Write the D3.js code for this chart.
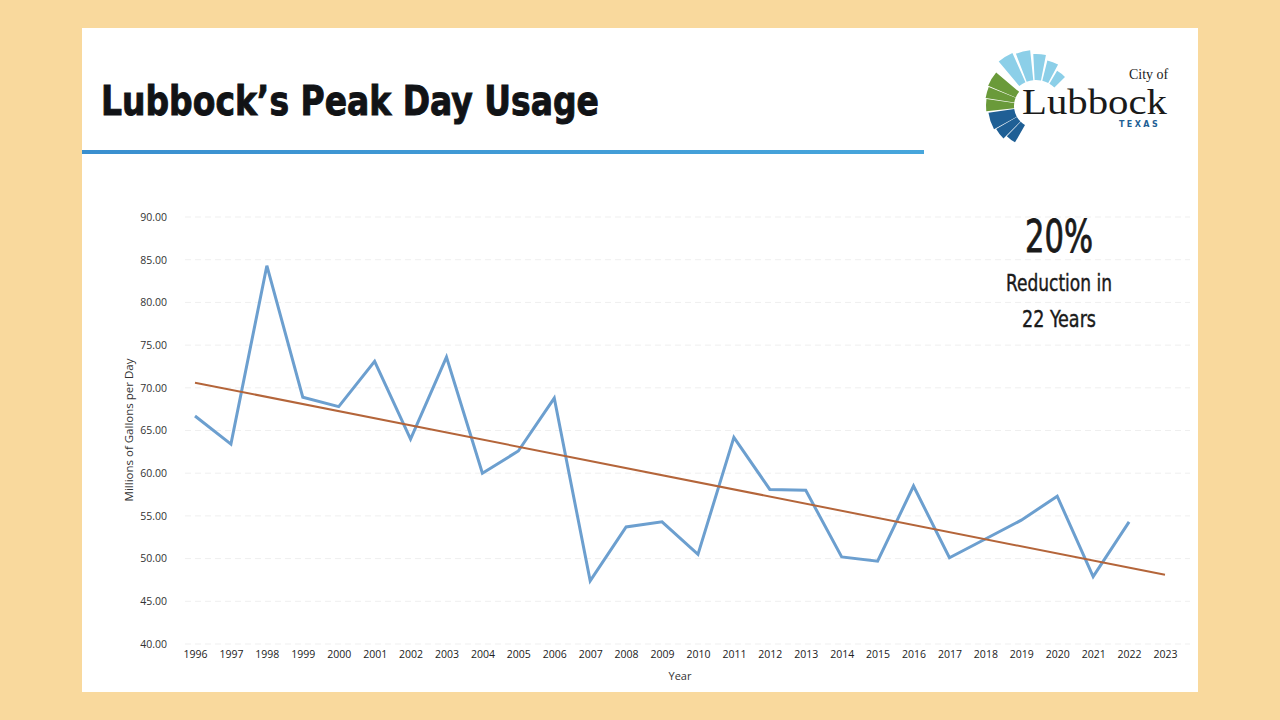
<!DOCTYPE html>
<html>
<head>
<meta charset="utf-8">
<script src="https://cdn.jsdelivr.net/npm/d3@7"></script>
<style>
  html, body { margin: 0; padding: 0; background: #F9D99D; }
  svg { display: block; }
</style>
</head>
<body>
<svg id="chart" width="1280" height="720"></svg>
<script>
// ---- Data ----
const years = [1996,1997,1998,1999,2000,2001,2002,2003,2004,2005,2006,2007,2008,2009,2010,2011,2012,2013,2014,2015,2016,2017,2018,2019,2020,2021,2022,2023];
const peakUsage = [66.7,63.4,84.3,68.9,67.8,73.1,64.0,73.6,60.0,62.6,68.8,47.4,53.7,54.3,50.5,64.2,58.1,58.0,50.2,49.7,58.5,50.1,52.3,54.5,57.3,47.9,54.3,null];
const trendStart = 70.6;   // value of trend line at first year
const trendEnd = 48.1;     // value of trend line at last year
const yTicks = [40,45,50,55,60,65,70,75,80,85,90];
const titleText = "Lubbock\u2019s Peak Day Usage";
const calloutLines = ["20%", "Reduction in", "22 Years"];

// ---- Layout ----
const svg = d3.select("#chart");
svg.append("rect").attr("x",0).attr("y",0).attr("width",1280).attr("height",720).attr("fill","#F9D99D");
svg.append("rect").attr("x",82).attr("y",28).attr("width",1116).attr("height",664).attr("fill","#ffffff");

// Title
svg.append("text").attr("x",101).attr("y",115)
  .attr("font-family","'DejaVu Sans', sans-serif").attr("font-weight","bold")
  .attr("font-size",40).attr("fill","#111316").attr("stroke","#111316").attr("stroke-width",1)
  .attr("textLength",498).attr("lengthAdjust","spacingAndGlyphs")
  .text(titleText);

// Blue rule
const grad = svg.append("defs").append("linearGradient").attr("id","rule");
grad.append("stop").attr("offset","0%").attr("stop-color","#3A8FCF");
grad.append("stop").attr("offset","100%").attr("stop-color","#47A6DC");
svg.append("rect").attr("x",82).attr("y",150).attr("width",842).attr("height",4).attr("fill","url(#rule)");

// Logo
const logo = svg.append("g").attr("transform","translate(1036,106)");
const arc = d3.arc();
const deg = Math.PI/180;
const lightRays = [[-40,-24,58],[-21,-6,56],[-3,11,52],[14,28,47],[31,45,41]];
lightRays.forEach(r => {
  logo.append("path").attr("d", arc({innerRadius:26, outerRadius:r[2], startAngle:r[0]*deg, endAngle:r[1]*deg})).attr("fill","#8CCFE8");
});
const greenRays = [[-96,-82,50],[-81,-68,51],[-67,-50,52]];
greenRays.forEach(r => {
  logo.append("path").attr("d", arc({innerRadius:22, outerRadius:r[2], startAngle:r[0]*deg, endAngle:r[1]*deg})).attr("fill","#6A9A3A");
});
const blueRays = [[-150,-136,42],[-135,-120,46],[-119,-98,48]];
blueRays.forEach(r => {
  logo.append("path").attr("d", arc({innerRadius:22, outerRadius:r[2], startAngle:r[0]*deg, endAngle:r[1]*deg})).attr("fill","#1F5F95");
});
svg.append("text").attr("x",1129).attr("y",79).attr("font-family","'Liberation Serif', serif").attr("font-size",14).attr("fill","#222").text("City of");
svg.append("text").attr("x",1022).attr("y",114).attr("font-family","'Liberation Serif', serif").attr("font-size",35).attr("fill","#1a1a1a")
  .attr("textLength",145).attr("lengthAdjust","spacingAndGlyphs").text("Lubbock");
svg.append("text").attr("x",1119).attr("y",127).attr("font-family","'DejaVu Sans', sans-serif").attr("font-weight","bold").attr("font-size",8)
  .attr("letter-spacing",2.4).attr("fill","#1F5F95").text("TEXAS");

// ---- Scales ----
const x = d3.scalePoint().domain(years).range([195,1165]);
const y = d3.scaleLinear().domain([40,90]).range([644,217]);

// Gridlines
svg.append("g").selectAll("line").data(yTicks).join("line")
  .attr("x1",185).attr("x2",1190)
  .attr("y1",d=>y(d)).attr("y2",d=>y(d))
  .attr("stroke","#efefef").attr("stroke-width",1).attr("stroke-dasharray","6,4");

// Y axis
const yAxis = svg.append("g").attr("transform","translate(167,0)")
  .call(d3.axisLeft(y).tickValues(yTicks).tickFormat(d3.format(".2f")).tickSize(0).tickPadding(0));
yAxis.select(".domain").remove();
yAxis.selectAll("text").attr("font-family","'Open Sans', sans-serif").attr("font-size",10.5).attr("fill","#333");

// X axis
const xAxis = svg.append("g").attr("transform","translate(0,651)")
  .call(d3.axisBottom(x).tickSize(0).tickPadding(0));
xAxis.select(".domain").remove();
xAxis.selectAll("text").attr("font-family","'Open Sans', sans-serif").attr("font-size",10.5).attr("fill","#222");

// Axis titles
svg.append("text").attr("x",680).attr("y",680).attr("text-anchor","middle")
  .attr("font-family","'Open Sans', sans-serif").attr("font-size",11).attr("fill","#333").text("Year");
svg.append("text").attr("transform","translate(133,430) rotate(-90)").attr("text-anchor","middle")
  .attr("font-family","'Open Sans', sans-serif").attr("font-size",11.5).attr("fill","#333").text("Millions of Gallons  per Day");

// Data line
const pts = years.map((yr,i)=>({yr, v:peakUsage[i]})).filter(d=>d.v!=null);
svg.append("path").datum(pts)
  .attr("d", d3.line().x(d=>x(d.yr)).y(d=>y(d.v)))
  .attr("fill","none").attr("stroke","#6C9FCF").attr("stroke-width",3).attr("stroke-linejoin","miter");

// Trend line
const trend = [{yr:years[0], v:trendStart},{yr:years[years.length-1], v:trendEnd}];
svg.append("path").datum(trend)
  .attr("d", d3.line().x(d=>x(d.yr)).y(d=>y(d.v)))
  .attr("fill","none").attr("stroke","#B4653A").attr("stroke-width",2);

// Callout
const cf = "'Liberation Sans Narrow', 'DejaVu Sans Condensed', sans-serif";
svg.append("text").attr("x",1059).attr("y",252).attr("text-anchor","middle").attr("font-family",cf)
  .attr("font-size",44).attr("fill","#1a1a1a").attr("stroke","#1a1a1a").attr("stroke-width",0.8)
  .attr("textLength",68).attr("lengthAdjust","spacingAndGlyphs").text(calloutLines[0]);
svg.append("text").attr("x",1059).attr("y",291).attr("text-anchor","middle").attr("font-family",cf)
  .attr("font-size",23).attr("fill","#1a1a1a").attr("stroke","#1a1a1a").attr("stroke-width",0.4)
  .attr("textLength",106).attr("lengthAdjust","spacingAndGlyphs").text(calloutLines[1]);
svg.append("text").attr("x",1059).attr("y",327).attr("text-anchor","middle").attr("font-family",cf)
  .attr("font-size",23).attr("fill","#1a1a1a").attr("stroke","#1a1a1a").attr("stroke-width",0.4)
  .attr("textLength",74).attr("lengthAdjust","spacingAndGlyphs").text(calloutLines[2]);
</script>
</body>
</html>
